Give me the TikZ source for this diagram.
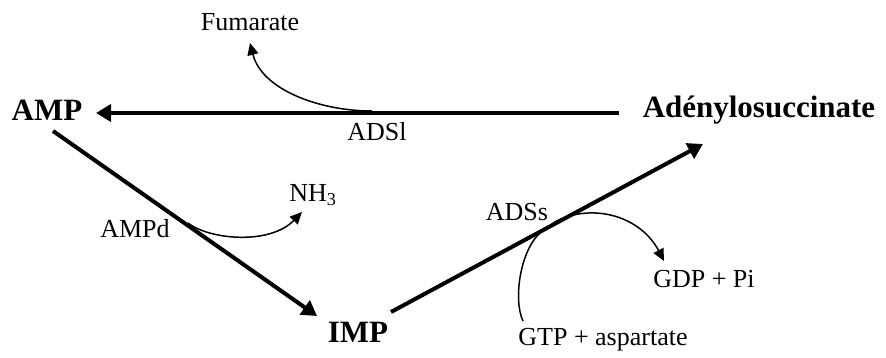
\documentclass[tikz,border=0pt]{standalone}
\usepackage{fontspec}
\setmainfont{Liberation Serif}
\usetikzlibrary{arrows.meta}
\tikzset{
  mol/.style={font=\fontsize{31}{36}\selectfont\bfseries, inner sep=0pt},
  lab/.style={font=\fontsize{26}{30}\selectfont, inner sep=0pt},
  mainarrow/.style={line width=4pt, -{Triangle[length=15pt,width=17pt]}},
  sidearrow/.style={line width=1.5pt, -{Triangle[length=12pt,width=11pt]}},
  sideline/.style={line width=1.5pt}
}
\begin{document}
\begin{tikzpicture}[x=1pt,y=-1pt]
\useasboundingbox (0,0) rectangle (886,358);
% molecules
\node[mol] (amp) at (47,110) {AMP};
\node[mol] (ade) at (759,110) {Adénylosuccinate};
\node[mol] (imp) at (358,332) {IMP};
% labels
\node[lab] (fum) at (250,22) {Fumarate};
\node[lab] (adsl) at (377,132) {ADSl};
\node[lab] (ampd) at (135,229) {AMPd};
\node[lab] (nh3) at (313,195) {NH\textsubscript{3}};
\node[lab] (adss) at (517,212) {ADSs};
\node[lab] (gdp) at (704,279) {GDP + Pi};
\node[lab] (gtp) at (603,340) {GTP + aspartate};
% connector end points
\coordinate (adeW) at (619,113);
\coordinate (ampE) at (96,113);
\coordinate (ampS) at (53,131);
\coordinate (impN) at (317,316);
\coordinate (impE) at (391,312);
\coordinate (adeS) at (703,144);
\coordinate (fumS) at (250,43);
\coordinate (nh3S) at (302,212);
\coordinate (gdpN) at (664,261);
\coordinate (gtpN) at (523,321);
\coordinate (adslP) at (372,111);
\coordinate (ampdP) at (188,223);
\coordinate (adssP) at (553,223);
\coordinate (adssQ) at (541,232);
% main reactions
\draw[mainarrow] (adeW) -- (ampE);
\draw[mainarrow] (ampS) -- (impN);
\draw[mainarrow] (impE) -- (adeS);
% side reactions
\draw[sidearrow] (adslP) .. controls (320,111) and (262,90) .. (fumS);
\draw[sidearrow] (ampdP) .. controls (210,240) and (270,245) .. (nh3S);
\draw[sidearrow] (adssP) .. controls (590,202) and (640,215) .. (gdpN);
\draw[sideline] (adssQ) .. controls (520,250) and (513,300) .. (gtpN);
\end{tikzpicture}
\end{document}
